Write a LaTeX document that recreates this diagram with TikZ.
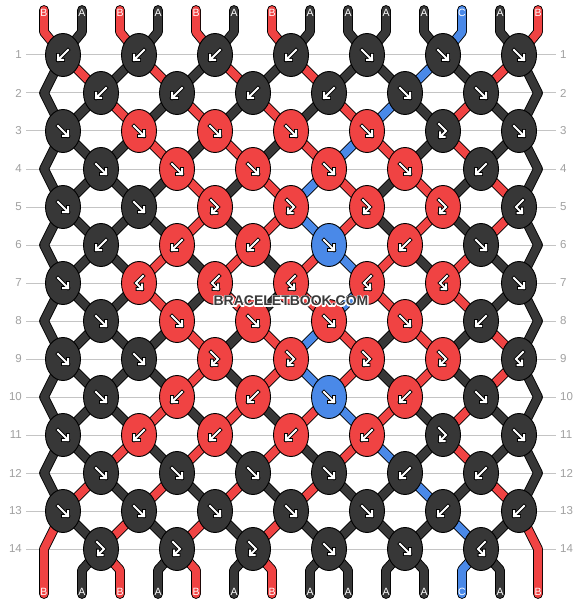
\documentclass[tikz,border=0pt]{standalone}
\usepackage{fontspec}
\setmainfont{Liberation Sans}
\usetikzlibrary{shapes.geometric}
\definecolor{cA}{HTML}{373737}
\definecolor{cB}{HTML}{F04343}
\definecolor{cC}{HTML}{4A89E8}
\definecolor{rowline}{HTML}{C4C4C4}
\definecolor{rownum}{HTML}{A0A0A0}
\definecolor{wmark}{HTML}{3A3A3A}
\tikzset{
  strand/.style={draw=black, line width=0.9pt, double distance=8pt, line cap=round, line join=round},
  knot/.style={ellipse, draw=black, line width=0.9pt, minimum width=35pt, minimum height=43pt, inner sep=0pt},
  arrowout/.style={draw=black, line width=3.6pt, line cap=rect, line join=miter},
  arrowin/.style={draw=white, line width=2.0pt, line cap=rect, line join=miter},
  rowlinestyle/.style={draw=rowline, line width=1pt},
  rownumstyle/.style={text=rownum, font=\fontsize{11.5}{13}\selectfont, inner sep=0pt},
  lab/.style={text=white, font=\fontsize{10.5}{12}\selectfont, inner sep=0pt},
  wm/.style={font=\fontsize{14}{16}\selectfont\bfseries, inner sep=0pt}
}
\newcommand\knotarrow[1]{%
  \foreach \st in {arrowout,arrowin}{%
    \ifcase#1\relax
    \or \draw[\st] (-5,-5) -- (5,5) (0,5) -- (5,5) -- (5,0);
    \or \draw[\st] (5,-5) -- (-5,5) (0,5) -- (-5,5) -- (-5,0);
    \or \draw[\st] (-4,-7) -- (3,0) -- (-3,6) (-3,1.5) -- (-3,6) -- (1.5,6);
    \or \draw[\st] (4,-7) -- (-3,0) -- (3,6) (3,1.5) -- (3,6) -- (-1.5,6);
    \fi}}
\begin{document}
\begin{tikzpicture}[x=1pt,y=-1pt]
\fill[white] (0,0) rectangle (582,604);
\useasboundingbox (0,0) rectangle (582,604);
% row lines and numbers
\foreach \r in {1,...,14}{
  \pgfmathsetmacro\y{55+38*(\r-1)}
  \draw[rowlinestyle] (26,\y) -- (556,\y);
  \node[rownumstyle, anchor=east] (nl-\r) at (22,\y) {\r};
  \node[rownumstyle, anchor=west] (nr-\r) at (560,\y) {\r};
}
% strands
\foreach \r/\s in {
  0/{B,A,B,A,B,A,B,A,A,A,A,C,A,B},
  1/{A,B,A,B,A,B,A,B,A,A,C,A,B,A},
  2/{A,A,B,A,B,A,B,A,B,C,A,B,A,A},
  3/{A,A,A,B,A,B,A,B,C,B,A,B,A,A},
  4/{A,A,A,A,B,A,B,C,B,A,B,A,B,A},
  5/{A,A,A,A,B,A,B,C,B,A,B,A,B,A},
  6/{A,A,A,B,A,B,A,B,C,B,A,B,A,A},
  7/{A,A,A,B,A,B,A,B,C,B,A,B,A,A},
  8/{A,A,A,A,B,A,B,C,B,A,B,A,B,A},
  9/{A,A,A,A,B,A,B,C,B,A,B,A,B,A},
  10/{A,A,A,B,A,B,A,B,C,B,A,B,A,A},
  11/{A,A,B,A,B,A,B,A,B,C,A,B,A,A},
  12/{A,B,A,B,A,B,A,B,A,A,C,A,B,A},
  13/{B,A,B,A,B,A,B,A,A,A,A,C,A,B},
  14/{B,A,B,A,B,A,B,A,A,A,A,C,A,B}}{
  \foreach \c [count=\p] in \s {
    \pgfmathtruncatemacro\ko{ceil(\p/2)}
    \pgfmathtruncatemacro\ke{floor(\p/2)}
    \pgfmathsetmacro\xo{63+76*(\ko-1)}
    \pgfmathsetmacro\xe{101+76*(\ke-1)}
    \pgfmathsetmacro\xp{44+38*(\p-1)}
    \pgfmathsetmacro\ya{55+38*(\r-1)}
    \pgfmathsetmacro\yb{\ya+38}
    \pgfmathsetmacro\yc{\ya+76}
    \ifnum\r=0\relax
      \draw[strand,double=c\c] (\xp,10) -- (\xp,32) -- (\xo,55);
    \else
      \ifodd\r\relax
        \ifnum\p=1\relax\def\isedge{1}\else\ifnum\p=14\relax\def\isedge{1}\else\def\isedge{0}\fi\fi
        \ifnum\isedge=1\relax
          \ifnum\r=13\relax
            \draw[strand,double=c\c] (\xo,\ya) -- (\xp,\yb) -- (\xp,594);
          \else
            \draw[strand,double=c\c] (\xo,\ya) -- (\xp,\yb) -- (\xo,\yc);
          \fi
        \else
          \draw[strand,double=c\c] (\xo,\ya) -- (\xe,\yb);
        \fi
      \else
        \ifnum\p=1\relax\else\ifnum\p=14\relax\else
          \ifnum\r=14\relax
            \draw[strand,double=c\c] (\xe,\ya) -- (\xp,570) -- (\xp,594);
          \else
            \draw[strand,double=c\c] (\xe,\ya) -- (\xo,\yb);
          \fi
        \fi\fi
      \fi
    \fi
  }
}
% knots
\foreach \r/\lst in {
  1/{A/2,A/2,A/2,A/2,A/1,A/1,A/1},
  2/{A/2,A/2,A/2,A/2,A/1,A/1},
  3/{A/1,B/1,B/1,B/1,B/1,A/3,A/1},
  4/{A/1,B/1,B/1,B/1,B/1,A/2},
  5/{A/1,A/1,B/3,B/3,B/3,B/3,A/4},
  6/{A/2,B/2,B/2,C/1,B/2,A/1},
  7/{A/1,B/4,B/4,B/4,B/4,B/4,A/1},
  8/{A/1,B/1,B/1,B/1,B/1,A/2},
  9/{A/1,A/1,B/3,B/3,B/3,B/3,A/4},
  10/{A/1,B/2,B/2,C/1,B/2,A/1},
  11/{A/1,B/2,B/2,B/2,B/2,A/3,A/1},
  12/{A/1,A/1,A/1,A/1,A/2,A/2},
  13/{A/1,A/1,A/1,A/1,A/1,A/2,A/2},
  14/{A/3,A/3,A/3,A/1,A/1,A/4}}{
  \pgfmathsetmacro\y{55+38*(\r-1)}
  \foreach \c/\t [count=\k] in \lst {
    \ifodd\r\relax
      \pgfmathsetmacro\x{63+76*(\k-1)}
    \else
      \pgfmathsetmacro\x{101+76*(\k-1)}
    \fi
    \node[knot, fill=c\c] (k-\r-\k) at (\x,\y) {};
    \begin{scope}[shift={(\x,\y)}]
      \knotarrow{\t}
    \end{scope}
  }
}
% end labels
\foreach \c [count=\p] in {B,A,B,A,B,A,B,A,A,A,A,C,A,B}{
  \pgfmathsetmacro\xp{44+38*(\p-1)}
  \node[lab] (t-\p) at (\xp,13) {\c};
  \node[lab] (b-\p) at (\xp,592) {\c};
}
% watermark with white halo
\node[wm, text=white] (wmh) at (291,301) {\special{pdf:literal direct 2 Tr 2.2 w 1 j}BRACELETBOOK.COM\special{pdf:literal direct 0 Tr 1 w}};
\node[wm, text=wmark] (wm) at (291,301) {BRACELETBOOK.COM};
\end{tikzpicture}
\end{document}
